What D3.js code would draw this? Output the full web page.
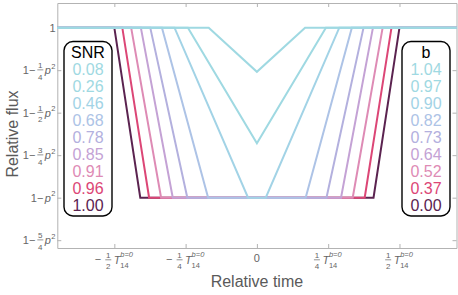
<!DOCTYPE html>
<html>
<head>
<meta charset="utf-8">
<title>Transit shapes</title>
<script src="https://d3js.org/d3.v7.min.js"></script>
<style>
  body { margin: 0; background: #fff; }
  text { font-family: 'Liberation Sans', Arial, sans-serif; }
  .tick-lab { fill: #666; }
</style>
</head>
<body>
<script>
// values (times in units of T14 for b=0, depth in units of p^2)
var snrValues = [0.08, 0.26, 0.46, 0.68, 0.78, 0.85, 0.91, 0.96, 1.00];
var bValues   = [1.04, 0.97, 0.90, 0.82, 0.73, 0.64, 0.52, 0.37, 0.00];
var outerHalf = [0.169, 0.242, 0.289, 0.333, 0.374, 0.407, 0.441, 0.472, 0.500];
var innerHalf = [0.000, 0.000, 0.031, 0.171, 0.244, 0.295, 0.336, 0.378, 0.409];
var depths    = [0.26, 0.68, 1, 1, 1, 1, 1, 1, 1];
var colors    = ["#9fd9e2", "#9fd9e2", "#a2d3e6", "#adc3e6", "#b3b0de", "#c4a2d5",
                 "#de8bb5", "#dc4676", "#5b2350"];

var xTicks = [-0.5, -0.25, 0, 0.25, 0.5];
var xTickLabels = [["−", "1", "2"], ["−", "1", "4"], null, ["", "1", "4"], ["", "1", "2"]];
var yTicks = [0, 0.25, 0.5, 0.75, 1, 1.25];
var yTickLabels = ["1", "1/4", "1/2", "3/4", "", "5/4"];

var W = 458, H = 295;
var svg = d3.select("body").append("svg").attr("width", W).attr("height", H);

var x = d3.scaleLinear().domain([-0.7, 0.7]).range([57.3, 456.5]);
var y = d3.scaleLinear().domain([-0.145, 1.296]).range([3, 248]);

// frame + inward ticks
var frame = svg.append("g").attr("class", "frame");
frame.append("g").attr("transform", "translate(0," + y.range()[1] + ")")
  .call(d3.axisBottom(x).tickValues(xTicks).tickSizeInner(-4).tickSizeOuter(0).tickFormat(""));
frame.append("g").attr("transform", "translate(0," + y.range()[0] + ")")
  .call(d3.axisTop(x).tickValues(xTicks).tickSizeInner(-4).tickSizeOuter(0).tickFormat(""));
frame.append("g").attr("transform", "translate(" + x.range()[0] + ",0)")
  .call(d3.axisLeft(y).tickValues(yTicks).tickSizeInner(-4).tickSizeOuter(0).tickFormat(""));
frame.append("g").attr("transform", "translate(" + x.range()[1] + ",0)")
  .call(d3.axisRight(y).tickValues(yTicks).tickSizeInner(-4).tickSizeOuter(0).tickFormat(""));
frame.selectAll("path.domain").attr("stroke", "#b3b3b3");
frame.selectAll(".tick line").attr("stroke", "#b3b3b3");

// curves, drawn from b=0 up so the light ones sit on top
var line = d3.line().x(function(d) { return x(d[0]); }).y(function(d) { return y(d[1]); });
var order = d3.range(bValues.length).reverse();
order.forEach(function(i) {
  var pts = [[-0.7, 0], [-outerHalf[i], 0], [-innerHalf[i], depths[i]]];
  if (innerHalf[i] > 0) pts.push([innerHalf[i], depths[i]]);
  pts.push([outerHalf[i], 0], [0.7, 0]);
  svg.append("path").attr("d", line(pts))
    .attr("fill", "none").attr("stroke", colors[i]).attr("stroke-width", 2)
    .attr("stroke-linejoin", "miter");
});

// y tick labels
yTicks.forEach(function(v, i) {
  var ty = y(v);
  var g = svg.append("g").attr("class", "tick-lab");
  var lab = yTickLabels[i];
  if (lab === "1") {
    g.append("text").attr("x", 0).attr("y", 4).attr("font-size", 11).text("1");
  } else {
    g.append("text").attr("x", 0).attr("y", 4).attr("font-size", 11).text("1−");
    var px = 14;
    if (lab) {
      var parts = lab.split("/");
      g.append("text").attr("x", 17.5).attr("y", -2).attr("font-size", 8)
        .attr("text-anchor", "middle").text(parts[0]);
      g.append("text").attr("x", 17.5).attr("y", 9.5).attr("font-size", 8)
        .attr("text-anchor", "middle").text(parts[1]);
      g.append("line").attr("x1", 14.5).attr("x2", 20.5).attr("y1", -0.3).attr("y2", -0.3)
        .attr("stroke", "#666").attr("stroke-width", 0.7);
      px = 22;
    }
    g.append("text").attr("x", px).attr("y", 4).attr("font-size", 11)
      .attr("font-style", "italic").text("p");
    g.append("text").attr("x", px + 6.5).attr("y", -1.5).attr("font-size", 7.5).text("2");
  }
  var bb = g.node().getBBox();
  g.attr("transform", "translate(" + (55.5 - (bb.x + bb.width)) + "," + ty + ")");
});

// x tick labels
xTicks.forEach(function(v, i) {
  var tx = x(v);
  var g = svg.append("g").attr("class", "tick-lab");
  var lab = xTickLabels[i];
  if (!lab) {
    g.append("text").attr("x", 0).attr("y", 4).attr("font-size", 11)
      .attr("text-anchor", "middle").text("0");
    g.attr("transform", "translate(" + tx + ",258)");
    return;
  }
  var cx = 0;
  if (lab[0]) {
    g.append("text").attr("x", 0).attr("y", 4).attr("font-size", 11).text(lab[0]);
    cx = 10.5;
  }
  g.append("text").attr("x", cx + 3).attr("y", -1.5).attr("font-size", 8)
    .attr("text-anchor", "middle").text(lab[1]);
  g.append("text").attr("x", cx + 3).attr("y", 10).attr("font-size", 8)
    .attr("text-anchor", "middle").text(lab[2]);
  g.append("line").attr("x1", cx).attr("x2", cx + 6).attr("y1", 0.8).attr("y2", 0.8)
    .attr("stroke", "#666").attr("stroke-width", 0.7);
  g.append("text").attr("x", cx + 8.5).attr("y", 4.5).attr("font-size", 11)
    .attr("font-style", "italic").text("T");
  g.append("text").attr("x", cx + 15).attr("y", 8.5).attr("font-size", 7.5).text("14");
  g.append("text").attr("x", cx + 15).attr("y", -2.5).attr("font-size", 7.5)
    .attr("font-style", "italic").text("b=0");
  var bb = g.node().getBBox();
  g.attr("transform", "translate(" + (tx - (bb.x + bb.width / 2)) + ",259)");
});

// axis titles
svg.append("text").attr("x", (x.range()[0] + x.range()[1]) / 2).attr("y", 287)
  .attr("text-anchor", "middle").attr("font-size", 16).attr("fill", "#5a5a5a").text("Relative time");
svg.append("text").attr("transform", "translate(18,134) rotate(-90)")
  .attr("text-anchor", "middle").attr("font-size", 16).attr("fill", "#5a5a5a").text("Relative flux");

// legends
function legend(cx, title, values) {
  var g = svg.append("g");
  g.append("rect").attr("x", cx - 24).attr("y", 41.5).attr("width", 48).attr("height", 174.5)
    .attr("rx", 9).attr("fill", "#fff").attr("stroke", "#000").attr("stroke-width", 1.4);
  g.append("text").attr("x", cx).attr("y", 57.5).attr("text-anchor", "middle")
    .attr("font-size", 16).attr("fill", "#000").text(title);
  values.forEach(function(v, i) {
    g.append("text").attr("x", cx).attr("y", 74.5 + i * 17.1).attr("text-anchor", "middle")
      .attr("font-size", 16).attr("fill", colors[i]).text(v.toFixed(2));
  });
}
legend(88, "SNR", snrValues);
legend(426, "b", bValues);
</script>
</body>
</html>
